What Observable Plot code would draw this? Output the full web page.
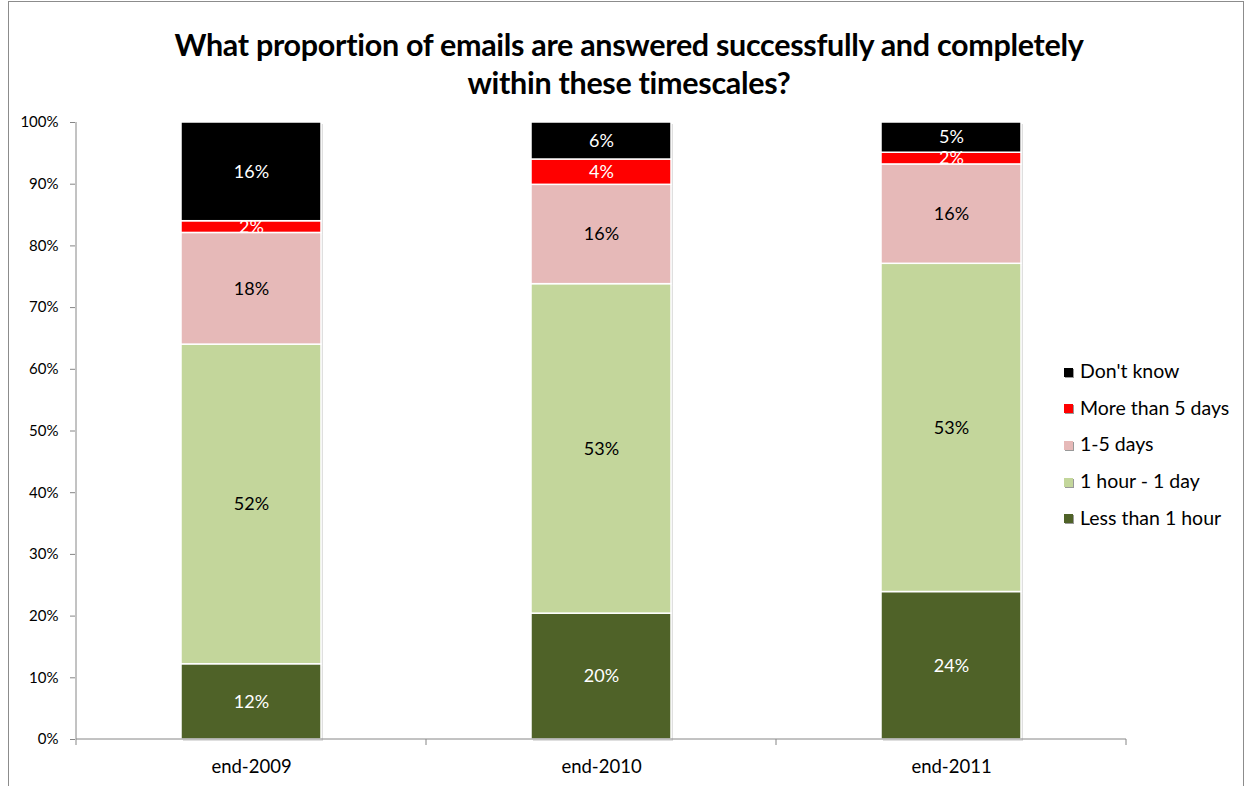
<!DOCTYPE html>
<html><head><meta charset="utf-8">
<script src="https://cdn.jsdelivr.net/npm/d3@7"></script>
<script src="https://cdn.jsdelivr.net/npm/@observablehq/plot@0.6"></script>
<style>
body{margin:0;background:#fff;font-family:Lato,"Open Sans",sans-serif;}
#wrap{position:relative;width:1248px;height:786px;overflow:hidden;}
#frame{position:absolute;left:8px;top:1px;width:1236px;height:800px;border:1px solid #8c8c8c;box-sizing:border-box;}
#title{position:absolute;left:0;top:25px;width:1258px;text-align:center;font-weight:bold;font-size:30.5px;line-height:38px;color:#000;letter-spacing:-0.3px;}
#chart{position:absolute;left:0;top:0;}
#legend{position:absolute;left:1064px;top:353px;font-size:19.5px;color:#000;}
.row{position:absolute;left:0;white-space:nowrap;height:36px;line-height:36px;}
.sw{display:inline-block;width:9px;height:9px;margin-right:7px;vertical-align:middle;position:relative;top:-1px;box-shadow:1px 1px 0 #999;}
</style></head>
<body>
<div id="wrap">
  <div id="frame"></div>
  <div id="chart"></div>
  <div id="title"></div>
  <div id="legend"></div>
</div>
<script>
const titleLines = ["What proportion of emails are answered successfully and completely", "within these timescales?"];
const categories = ["end-2009", "end-2010", "end-2011"];
const series = ["Less than 1 hour", "1 hour - 1 day", "1-5 days", "More than 5 days", "Don't know"];
const lessThan1Hour = [12.2, 20.4, 23.9];
const hour1To1Day  = [51.8, 53.4, 53.2];
const days1To5     = [18.1, 16.1, 16.1];
const moreThan5Days = [1.9, 4.1, 1.9];
const dontKnow     = [16.0, 6.0, 4.9];
const seriesColors = ["#4F6228", "#C3D69B", "#E6B9B8", "#FF0000", "#000000"];
const labelColors  = ["#ffffff", "#000000", "#000000", "#ffffff", "#ffffff"];
const yTicks = [0, 10, 20, 30, 40, 50, 60, 70, 80, 90, 100];

const seriesValues = [lessThan1Hour, hour1To1Day, days1To5, moreThan5Days, dontKnow];
const data = [];
categories.forEach((c, i) => {
  series.forEach((s, j) => data.push({category: c, series: s, value: seriesValues[j][i], si: j}));
});

document.getElementById("title").innerHTML = titleLines.join("<br>");

function axes(index, scales, values, dims) {
  const g = d3.create("svg:g");
  const x = scales.x;
  const step = typeof x.step === "function" ? x.step() : x.step;
  const bw = typeof x.bandwidth === "function" ? x.bandwidth() : x.bandwidth;
  const gap = (step - bw) / 2;
  const yb = scales.y(0), yt = scales.y(100);
  const left = x(categories[0]) - gap;
  const right = x(categories[categories.length - 1]) + bw + gap;
  const col = "#868686";
  g.append("line").attr("x1", left).attr("x2", left).attr("y1", yt).attr("y2", yb).attr("stroke", col);
  g.append("line").attr("x1", left).attr("x2", right).attr("y1", yb).attr("y2", yb).attr("stroke", col);
  const bounds = categories.map(c => x(c) - gap).concat([right]);
  bounds.forEach(b => g.append("line").attr("x1", b).attr("x2", b).attr("y1", yb).attr("y2", yb + 6).attr("stroke", col));
  return g.node();
}

const textFor = (light) => d => ((labelColors[d.si] === "#ffffff") === light ? Math.round(d.value) + "%" : null);

const chart = Plot.plot({
  width: 1248,
  height: 786,
  marginLeft: 75,
  marginRight: 122,
  marginTop: 122,
  marginBottom: 47,
  style: {fontFamily: "Lato, 'Open Sans', sans-serif", background: "transparent", overflow: "visible"},
  x: {domain: categories, paddingInner: 0.6, paddingOuter: 0.3, label: null},
  y: {domain: [0, 100], label: null},
  color: {domain: series, range: seriesColors},
  marks: [
    Plot.axisY({ticks: yTicks, tickFormat: d => d + "%", tickSize: 5, tickPadding: 12, stroke: "#868686", fill: "#000", fontSize: 15, label: null}),
    Plot.axisX({tickSize: 0, tickPadding: 20, fontSize: 18.5, fill: "#000", label: null}),
    Plot.barY(data, Plot.stackY({x: "category", y: "value", z: "series", fill: "#bfbfbf", fillOpacity: 0.5, dx: 2, dy: 2, order: series})),
    Plot.barY(data, Plot.stackY({x: "category", y: "value", fill: "series", stroke: "#fff", strokeWidth: 1.5, order: series})),
    axes,
    Plot.text(data, Plot.stackY({x: "category", y: "value", z: "series", order: series, text: textFor(true), fill: "#fff", fontSize: 18})),
    Plot.text(data, Plot.stackY({x: "category", y: "value", z: "series", order: series, text: textFor(false), fill: "#000", fontSize: 18}))
  ]
});
document.getElementById("chart").appendChild(chart);

const legend = document.getElementById("legend");
series.slice().reverse().forEach((s, k) => {
  const j = series.indexOf(s);
  const row = document.createElement("div");
  row.className = "row";
  row.style.top = (k * 36.7) + "px";
  const sw = document.createElement("span");
  sw.className = "sw";
  sw.style.background = seriesColors[j];
  row.appendChild(sw);
  row.appendChild(document.createTextNode(s));
  legend.appendChild(row);
});
</script>
</body></html>
